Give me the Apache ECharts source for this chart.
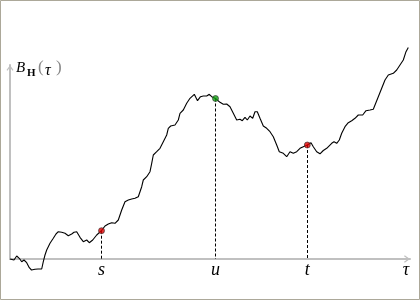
<!DOCTYPE html>
<html><head><meta charset="utf-8">
<script src="https://cdn.jsdelivr.net/npm/echarts@6/dist/echarts.min.js"></script>
<style>html,body{margin:0;padding:0;background:#fff}#c{width:420px;height:300px}</style>
</head><body><div id="c"></div>
<script>
// time positions (0..400 along the x axis) and process values
const tau = [0,1.7,4,6.7,9.3,11.7,14,16.7,19.3,21.5,23.3,25,28,31.7,33.3,35,36.7,40,43.3,46,48.3,51.7,55,58.3,61.7,64,66.7,70,73.3,76.7,79.3,82.7,86.7,91.5,95,98.3,101.7,105,108.3,111.7,115,118.3,121.7,125,128.3,131.7,133.3,136.7,140,141.7,143.3,146.7,150,153.3,156.7,158.3,160.7,165,168.3,170,173.3,176.7,180,181.5,184.3,187.5,190.5,193.3,196.7,199.3,201.7,205.5,210,213.3,216.7,220,223.3,226.7,230,232.3,235,237.3,240,242.7,245,247.3,250,253.3,256.7,260,263.3,266.7,269.3,273.3,276.7,280,283.3,286.7,290,293.3,297.3,301,303.3,306.7,310,313.3,316.7,318.3,321.7,324,326.7,329.3,331.7,335,338.3,341.7,345,348.3,352.7,356,360,363.3,365,367.7,371.7,375,378.3,383.3,386.7,390,393.3,396,398.3];
const bValues = [0,0.7,-1,3,0.7,-2.7,-1,-3.7,-8.7,-11,-12.7,-10.3,-10,-10,-2.7,4,9,15.7,20.7,25,27.3,26.7,25.7,23.3,25,26.7,27.3,21.7,17.3,19,16.3,19,24,28.3,33,35,36.3,35.7,39,49,57.3,59,60,60.7,62.3,72.3,79,82.3,87.3,95.7,104,107.3,110.7,117.3,124,130.7,133,134,139,145.7,149,155.7,160.7,162,164.7,158.3,162.3,163,163,164.7,162.3,160.5,156.7,154.7,155,152.3,145.7,139,139.7,138.3,141.7,139,143,140.7,147.3,147.3,140.7,133,130.7,127.3,122.3,114,107.3,105.7,102.3,107.3,105.7,107.3,110.7,112.3,114,116.3,112.3,107.3,105.2,108.5,110.7,109.5,115.7,117.3,115.7,119,125.7,132.3,136.3,138.3,140.7,144,144,148.3,149,149.7,151,160.7,170.7,179,184,185.7,189,194,199,207.3,211.5];
const markerNames = ['s', 'u', 't'];
const markerTau = [91.5, 205.5, 297.3];
const markerB = [28.3, 160.5, 114];
const markerColors = ['#e00000', '#10a010', '#e00000'];
const axisEndLabel = 'τ';
const axisEndTau = 396;

const serif = 'Liberation Serif';
const chevron = 'path://M5,0 L10,7 L8.6,8 L5,2.8 L1.4,8 L0,7 Z';
const axisLineStyle = {color: '#c0c0c0', width: 2};

const chart = echarts.init(document.getElementById('c'), null, {renderer: 'canvas'});
chart.setOption({
  animation: false,
  backgroundColor: '#fff',
  grid: {left: 10, right: 10, top: 65, bottom: 41, containLabel: false},
  xAxis: {
    type: 'value', min: 0, max: 400,
    axisLine: {show: true, lineStyle: axisLineStyle, symbol: ['none', chevron], symbolSize: [8, 6], symbolOffset: [0, -3]},
    axisTick: {show: false},
    splitLine: {show: false},
    axisLabel: {
      show: true,
      customValues: markerTau.concat([axisEndTau]),
      formatter: function (v) {
        const i = markerTau.indexOf(v);
        return i >= 0 ? markerNames[i] : axisEndLabel;
      },
      fontFamily: serif, fontStyle: 'italic', fontSize: 18, color: '#000', margin: 2
    }
  },
  yAxis: {
    type: 'value', min: 0, max: 194,
    axisLine: {show: true, lineStyle: axisLineStyle, symbol: ['none', chevron], symbolSize: [7, 6], symbolOffset: [0, -3]},
    axisTick: {show: false},
    splitLine: {show: false},
    axisLabel: {show: false}
  },
  series: [
    {
      type: 'line',
      data: tau.map((x, i) => [x, bValues[i]]),
      showSymbol: false,
      clip: false,
      lineStyle: {color: '#000', width: 1.1},
      z: 3,
      markLine: {
        silent: true,
        symbol: 'none',
        label: {show: false},
        lineStyle: {color: '#000', width: 1, type: [3, 2]},
        data: markerTau.map((x, i) => [{coord: [x, markerB[i]]}, {coord: [x, 0]}])
      }
    },
    {
      type: 'scatter',
      data: markerTau.map((x, i) => ({value: [x, markerB[i]], itemStyle: {color: markerColors[i]}})),
      symbolSize: 6,
      itemStyle: {borderColor: '#333', borderWidth: 0.8},
      z: 5
    }
  ],
  graphic: [
    {type: 'rect', shape: {x: 0.5, y: 0.5, width: 419, height: 299}, style: {fill: 'none', stroke: '#aca899', lineWidth: 1}, silent: true},
    {type: 'text', left: 16, top: 61, style: {text: 'B', fontFamily: serif, fontStyle: 'italic', fontSize: 15, fill: '#000'}},
    {type: 'text', left: 27, top: 68, style: {text: 'H', fontFamily: serif, fontWeight: 'bold', fontSize: 11, fill: '#000'}},
    {type: 'text', left: 38, top: 59, style: {text: '(', fontFamily: serif, fontSize: 17, fill: '#888'}},
    {type: 'text', left: 45, top: 63, style: {text: 'τ', fontFamily: serif, fontStyle: 'italic', fontSize: 16, fill: '#000'}},
    {type: 'text', left: 56, top: 59, style: {text: ')', fontFamily: serif, fontSize: 17, fill: '#888'}}
  ]
});
</script>
</body></html>
